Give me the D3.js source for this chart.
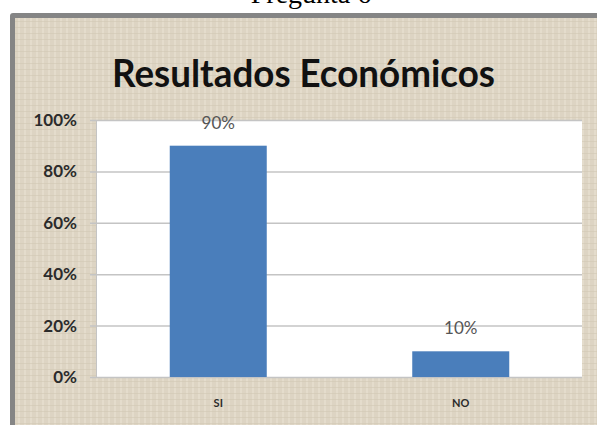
<!DOCTYPE html>
<html>
<head>
<meta charset="utf-8">
<script src="https://cdn.jsdelivr.net/npm/d3@7"></script>
<style>
  html, body { margin: 0; padding: 0; background: #ffffff; }
  svg { display: block; }
</style>
</head>
<body>
<div id="chart"></div>
<script>
const categories = ["SI", "NO"];
const values = [0.90, 0.10];
const valueLabels = ["90%", "10%"];
const yTicks = [0, 0.2, 0.4, 0.6, 0.8, 1.0];
const chartTitle = "Resultados Económicos";
const pageHeading = "Pregunta 6";

const W = 597, H = 425;
const svg = d3.select("#chart").append("svg").attr("width", W).attr("height", H);

// burlap-like texture
const defs = svg.append("defs");
const pat = defs.append("pattern").attr("id", "burlap").attr("patternUnits", "userSpaceOnUse")
  .attr("width", 6).attr("height", 6);
pat.append("rect").attr("width", 6).attr("height", 6).attr("fill", "#ddd4c3");
pat.append("rect").attr("x", 0).attr("y", 0).attr("width", 2).attr("height", 6).attr("fill", "#e6dece").attr("opacity", 0.8);
pat.append("rect").attr("x", 0).attr("y", 3).attr("width", 6).attr("height", 1).attr("fill", "#d2c8b4").attr("opacity", 0.6);

// page heading (cut at top, as in the reference)
svg.append("text").attr("x", 311).attr("y", 3).attr("text-anchor", "middle")
  .attr("font-family", "Liberation Serif, serif").attr("font-size", 28).attr("fill", "#000")
  .text(pageHeading);

// frame
svg.append("rect").attr("x", 10).attr("y", 13).attr("width", 600).attr("height", 430)
  .attr("rx", 3).attr("fill", "#858585");
svg.append("rect").attr("x", 15).attr("y", 18).attr("width", 600).attr("height", 430)
  .attr("fill", "url(#burlap)");

// title
svg.append("text").attr("x", 112).attr("y", 87)
  .attr("font-family", "Lato, 'Open Sans', sans-serif").attr("font-weight", "bold")
  .attr("font-size", 38).attr("fill", "#111")
  .attr("textLength", 383).attr("lengthAdjust", "spacingAndGlyphs")
  .text(chartTitle);

// scales
const plot = { left: 97, right: 582, top: 120, bottom: 377 };
const x = d3.scaleBand().domain(categories).range([plot.left, plot.right])
  .paddingInner(0.6).paddingOuter(0.3);
const y = d3.scaleLinear().domain([0, 1]).range([plot.bottom, plot.top]);

// plot area
svg.append("rect").attr("x", plot.left).attr("y", plot.top)
  .attr("width", plot.right - plot.left).attr("height", plot.bottom - plot.top)
  .attr("fill", "#ffffff");

// y axis with gridlines
const yAxis = d3.axisLeft(y).tickValues(yTicks).tickFormat(d3.format(".0%"))
  .tickSize(-(plot.right - plot.left)).tickPadding(20);
const gy = svg.append("g").attr("transform", `translate(${plot.left},0)`).call(yAxis);
gy.select(".domain").remove();
gy.selectAll(".tick line").attr("stroke", "#c4c4c4").attr("stroke-width", 1.5)
  .attr("x1", -7);
gy.selectAll(".tick text").attr("font-family", "Lato, 'Open Sans', sans-serif")
  .attr("font-weight", "bold").attr("font-size", 17).attr("fill", "#2b2b2b");
// left axis line
svg.append("line").attr("x1", plot.left - 0.5).attr("x2", plot.left - 0.5)
  .attr("y1", plot.top).attr("y2", plot.bottom).attr("stroke", "#c4c4c4").attr("stroke-width", 1);

// bars
svg.selectAll(".bar").data(values).enter().append("rect").attr("class", "bar")
  .attr("x", (d, i) => x(categories[i])).attr("width", x.bandwidth())
  .attr("y", d => y(d)).attr("height", d => y(0) - y(d))
  .attr("fill", "#4a7ebb");

// bar value labels
svg.selectAll(".vlabel").data(values).enter().append("text").attr("class", "vlabel")
  .attr("x", (d, i) => x(categories[i]) + x.bandwidth() / 2).attr("y", d => y(d) - 17)
  .attr("text-anchor", "middle").attr("font-family", "Lato, 'Open Sans', sans-serif")
  .attr("font-size", 17).attr("fill", "#555555")
  .text((d, i) => valueLabels[i]);

// x axis
const xAxis = d3.axisBottom(x).tickSize(0).tickPadding(22);
const gx = svg.append("g").attr("transform", `translate(0,${plot.bottom})`).call(xAxis);
gx.select(".domain").remove();
gx.selectAll(".tick text").attr("font-family", "Lato, 'Open Sans', sans-serif")
  .attr("font-weight", "bold").attr("font-size", 11).attr("fill", "#2b2b2b");
</script>
</body>
</html>
